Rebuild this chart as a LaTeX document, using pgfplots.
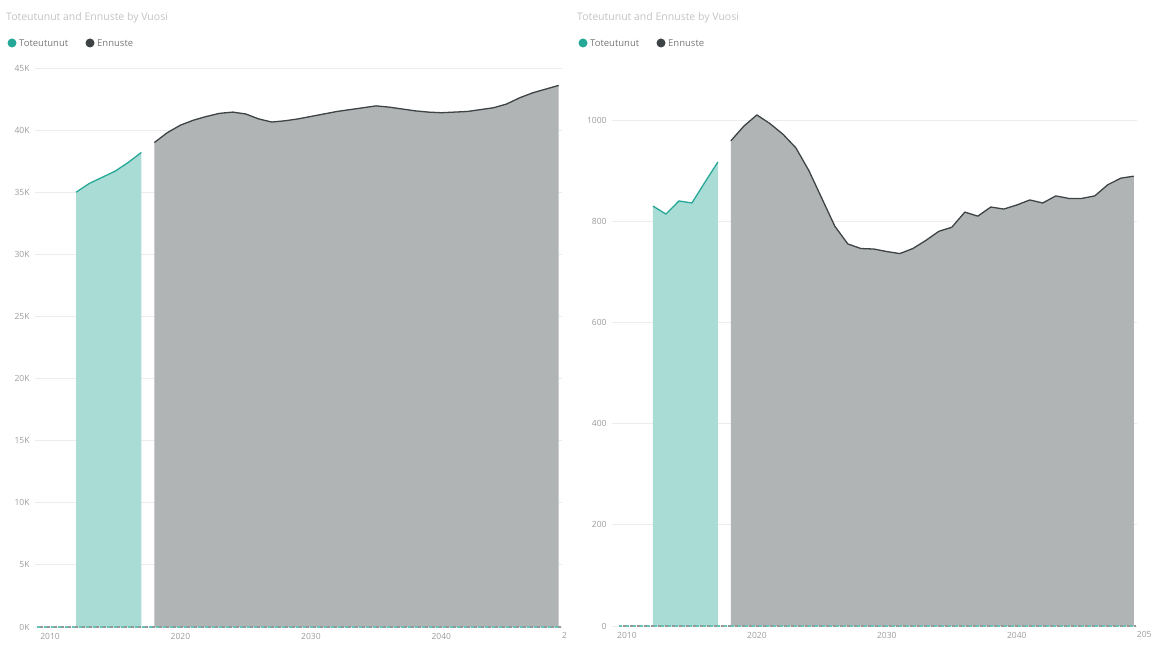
\documentclass[border=0pt]{standalone}
\usepackage{fontspec}
\setmainfont{Open Sans}
\usepackage{pgfplots}
\usepackage{pgfplotstable}
\pgfplotsset{compat=1.18}

\definecolor{tealline}{RGB}{38,168,152}
\definecolor{tealfill}{RGB}{168,220,213}
\definecolor{greyline}{RGB}{62,68,70}
\definecolor{greyfill}{RGB}{176,180,180}
\definecolor{ticktext}{RGB}{155,155,155}
\definecolor{titletext}{RGB}{195,195,195}
\definecolor{legendtext}{RGB}{120,120,120}
\definecolor{gridc}{RGB}{236,236,236}

% Left panel: totals
\pgfplotstableread{
vuosi arvo
2012 35000
2013 35700
2014 36200
2015 36700
2016 37400
2017 38200
}\vasenToteutunut

\pgfplotstableread{
vuosi arvo
2018 39000
2019 39800
2020 40400
2021 40800
2022 41100
2023 41350
2024 41450
2025 41300
2026 40900
2027 40650
2028 40750
2029 40900
2030 41100
2031 41300
2032 41500
2033 41650
2034 41800
2035 41950
2036 41850
2037 41700
2038 41550
2039 41450
2040 41400
2041 41450
2042 41500
2043 41650
2044 41800
2045 42100
2046 42600
2047 43000
2048 43300
2049 43600
}\vasenEnnuste

% Right panel
\pgfplotstableread{
vuosi arvo
2012 830
2013 814
2014 840
2015 836
2016 877
2017 917
}\oikeaToteutunut

\pgfplotstableread{
vuosi arvo
2018 959
2019 988
2020 1010
2021 993
2022 972
2023 945
2024 900
2025 845
2026 790
2027 755
2028 746
2029 745
2030 740
2031 736
2032 746
2033 762
2034 780
2035 788
2036 818
2037 810
2038 828
2039 824
2040 832
2041 842
2042 836
2043 850
2044 845
2045 845
2046 850
2047 872
2048 885
2049 889
}\oikeaEnnuste

\pgfplotsset{
  vuosipaneeli/.style={
    scale only axis,
    anchor=south west,
    xmin=2008.85, xmax=2049.25,
    xtick={2010,2020,2030,2040},
    axis line style={draw=none},
    major tick length=0pt,
    scaled y ticks=false,
    ymajorgrids,
    grid style={gridc, line width=0.8pt},
    tick label style={font=\fontsize{8.5}{10}\selectfont, text=ticktext},
    yticklabel style={xshift=-2pt},
    xticklabel style={yshift=-2.5pt},
    /pgf/number format/assume math mode=true,
    /pgf/number format/1000 sep={},
  },
  alue/.style={draw=none, fill=#1},
  viiva/.style={draw=#1, line width=1.3pt, line join=round},
  nolla/.style={draw=#1, line width=1.3pt, dash pattern=on 3pt off 4pt},
}

\newcommand{\otsikko}[2]{%
  \node[anchor=west, text=titletext, font=\fontsize{10.5}{12}\selectfont, inner sep=0pt] at (#1) {#2};}
\newcommand{\selite}[1]{%
  \begin{scope}[shift={(#1)}]
    \fill[tealline] (0,0) circle (4.5pt);
    \node[anchor=west, text=legendtext, font=\fontsize{9.5}{11}\selectfont, inner sep=0pt] at (7pt,0) {Toteutunut};
    \fill[greyline] (78pt,0) circle (4.5pt);
    \node[anchor=west, text=legendtext, font=\fontsize{9.5}{11}\selectfont, inner sep=0pt] at (85pt,0) {Ennuste};
  \end{scope}}
% year label that runs past the right edge of a panel
\newcommand{\reunavuosi}[1]{%
  \node[anchor=north, inner sep=2.83pt, yshift=-2.5pt, text=ticktext,
        font=\fontsize{8.5}{10}\selectfont] at (#1) {2050};}

\begin{document}
\begin{tikzpicture}
\path[use as bounding box] (0pt,0pt) rectangle (1152pt,646pt);

% ---------- left panel ----------
\begin{axis}[vuosipaneeli,
  at={(35pt,19pt)}, width=527pt, height=559pt,
  ymin=0, ymax=45000,
  ytick={0,5000,...,45000},
  yticklabels={0K,5K,10K,15K,20K,25K,30K,35K,40K,45K},
]
\addplot[alue=tealfill] table[x=vuosi, y=arvo] {\vasenToteutunut} \closedcycle;
\addplot[alue=greyfill] table[x=vuosi, y=arvo] {\vasenEnnuste} \closedcycle;
\addplot[viiva=tealline] table[x=vuosi, y=arvo] {\vasenToteutunut};
\addplot[viiva=greyline] table[x=vuosi, y=arvo] {\vasenEnnuste};
\addplot[nolla=tealline!70] coordinates {(2009,0) (2049.2,0)};
\addplot[nolla=greyline!55, dash phase=3.5pt] coordinates {(2009,0) (2049.2,0)};
\end{axis}
\begin{scope}
  \clip (540pt,0pt) rectangle (566pt,19pt);
  \reunavuosi{571.8pt,19pt}
\end{scope}
\otsikko{6pt,628pt}{Toteutunut and Ennuste by Vuosi}
\selite{12pt,603pt}

% ---------- right panel ----------
\begin{axis}[vuosipaneeli,
  at={(612pt,20pt)}, width=525pt, height=556.6pt,
  ymin=0, ymax=1100,
  ytick={0,200,...,1000},
]
\addplot[alue=tealfill] table[x=vuosi, y=arvo] {\oikeaToteutunut} \closedcycle;
\addplot[alue=greyfill] table[x=vuosi, y=arvo] {\oikeaEnnuste} \closedcycle;
\addplot[viiva=tealline] table[x=vuosi, y=arvo] {\oikeaToteutunut};
\addplot[viiva=greyline] table[x=vuosi, y=arvo] {\oikeaEnnuste};
\addplot[nolla=tealline!70] coordinates {(2009.4,0) (2049.2,0)};
\addplot[nolla=greyline!55, dash phase=3.5pt] coordinates {(2009.4,0) (2049.2,0)};
\end{axis}
\begin{scope}
  \clip (1120pt,0pt) rectangle (1152pt,20pt);
  \reunavuosi{1146.7pt,20pt}
\end{scope}
\otsikko{577pt,628pt}{Toteutunut and Ennuste by Vuosi}
\selite{583pt,603pt}
\end{tikzpicture}
\end{document}
